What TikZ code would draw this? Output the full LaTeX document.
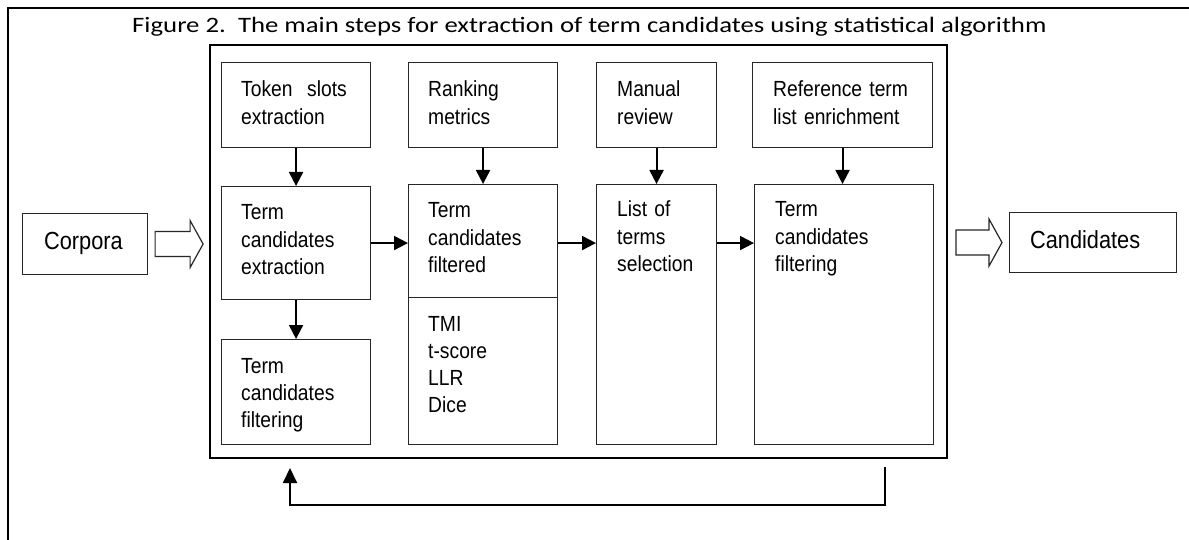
\documentclass[tikz,border=0pt]{standalone}
\usepackage{fontspec}
\setmainfont{Liberation Sans}
\newfontfamily\titlefont[FakeStretch=1.216]{Carlito}
\newfontfamily\boxfont[FakeStretch=0.88]{Liberation Sans}
\usetikzlibrary{arrows.meta,calc}
\begin{document}
\begin{tikzpicture}[x=1pt,y=-1pt,
  box/.style={draw=black!85,line width=1.1pt,inner sep=0pt,anchor=north west},
  txt/.style={inner sep=0pt,anchor=base west,text width=200pt,align=left,
    font=\boxfont\fontsize{21.9}{27.3}\selectfont},
  bigtxt/.style={txt,font=\boxfont\fontsize{24.7}{28}\selectfont},
  arr/.style={line width=2pt,-{Triangle[width=14pt,length=14pt]}},
  hollow/.style={draw=black!85,line width=1.2pt,fill=white}]
\useasboundingbox (0,0) rectangle (1189,540);
% outer frame (left and top)
\draw[line width=1.6pt] (8,540) -- (8,8) -- (1189,8);
% title
\node[inner sep=0pt,anchor=base west,font=\titlefont\fontsize{22}{26}\selectfont] (title) at (132,32.5)
  {Figure 2.\ \ The main steps for extraction of term candidates using statistical algorithm};
% inner frame
\node[draw,line width=2pt,inner sep=0pt,anchor=north west,minimum width=737pt,minimum height=413pt] (frame) at (209,44) {};
% top row
\node[box,minimum width=149pt,minimum height=85pt] (a1) at (221,62) {};
\node[box,minimum width=149pt,minimum height=85pt] (b1) at (408,62) {};
\node[box,minimum width=120pt,minimum height=85pt] (c1) at (596,62) {};
\node[box,minimum width=180pt,minimum height=85pt] (d1) at (752,62) {};
% second row
\node[box,minimum width=149pt,minimum height=113pt] (a2) at (221,186) {};
\node[box,minimum width=149pt,minimum height=113pt] (b2) at (408,184) {};
\node[box,minimum width=149pt,minimum height=147pt] (b3) at (408,297) {};
\node[box,minimum width=120pt,minimum height=260pt] (c2) at (596,184) {};
\node[box,minimum width=179pt,minimum height=260pt] (d2) at (754,184) {};
\node[box,minimum width=149pt,minimum height=105pt] (a3) at (221,339) {};
% side boxes
\node[box,minimum width=125pt,minimum height=61pt] (corp) at (22,213) {};
\node[box,minimum width=167pt,minimum height=60pt] (cand) at (1009,212) {};
% texts
\node[txt] (a1t) at ([shift={(20,35)}]a1.north west) {Token\ \ slots\\extraction};
\node[txt] (b1t) at ([shift={(20,35)}]b1.north west) {Ranking\\metrics};
\node[txt] (c1t) at ([shift={(21,35)}]c1.north west) {Manual\\review};
\node[txt] (d1t) at ([shift={(21,35)}]d1.north west) {Reference term\\list enrichment};
\node[txt] (a2t) at ([shift={(20,34)}]a2.north west) {Term\\candidates\\extraction};
\node[txt] (b2t) at ([shift={(20,34)}]b2.north west) {Term\\candidates\\filtered};
\node[txt] (b3t) at ([shift={(20,34)}]b3.north west) {TMI\\t-score\\LLR\\Dice};
\node[txt] (c2t) at ([shift={(21,33)}]c2.north west) {List of\\terms\\selection};
\node[txt] (d2t) at ([shift={(21,33)}]d2.north west) {Term\\candidates\\filtering};
\node[txt] (a3t) at ([shift={(20,34)}]a3.north west) {Term\\candidates\\filtering};
\node[bigtxt] (corpt) at ([shift={(22,36.5)}]corp.north west) {Corpora};
\node[bigtxt] (candt) at ([shift={(21,36.5)}]cand.north west) {Candidates};
% arrows
\draw[arr] (a1.south) -- (a2.north);
\draw[arr] (b1.south) -- (b2.north);
\draw[arr] (c1.south) -- (c2.north);
\draw[arr] (d1.south) -- (d1.south |- d2.north);
\draw[arr] (a2.south) -- (a3.north);
\draw[arr] (a2.east) -- (b2.west |- a2.east);
\draw[arr] (b2.east |- a2.east) -- (c2.west |- a2.east);
\draw[arr] (c2.east |- a2.east) -- (d2.west |- a2.east);
% hollow arrows
\draw[hollow] ($(corp.east)+(7,-12.5)$) -- ++(35,0) -- ++(0,-11) -- ++(13,23.5) -- ++(-13,23.5) -- ++(0,-11) -- ++(-35,0) -- cycle;
\draw[hollow] ($(cand.west)+(-53,-12.5)$) -- ++(33,0) -- ++(0,-11) -- ++(13,23.5) -- ++(-13,23.5) -- ++(0,-11) -- ++(-33,0) -- cycle;
% feedback loop
\coordinate (fbs) at (885,467);
\coordinate (fbe) at (290,468);
\draw[line width=1.8pt,-{Triangle[width=14pt,length=15pt]}] (fbs) -- (fbs |- 0,505) -- (fbe |- 0,505) -- (fbe);
\end{tikzpicture}
\end{document}
